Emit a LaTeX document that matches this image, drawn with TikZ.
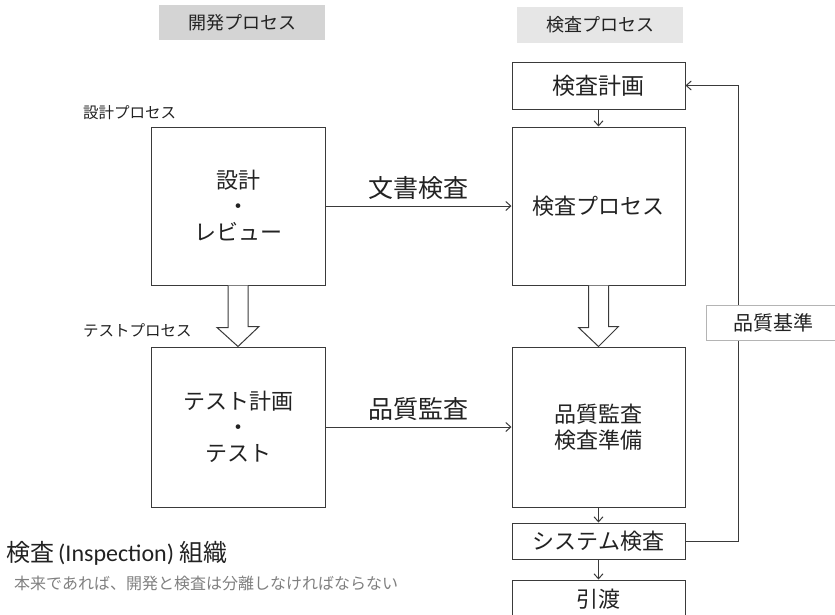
\documentclass[tikz,border=0pt]{standalone}
\usepackage{fontspec}
\setmainfont{Noto Sans CJK JP}
\newfontfamily\carlitofont{Carlito}
\usetikzlibrary{arrows.meta,calc}
\definecolor{linec}{HTML}{3A3A3A}
\definecolor{txtc}{HTML}{222222}
\definecolor{hdrA}{HTML}{D4D4D4}
\definecolor{hdrB}{HTML}{E6E6E6}
\definecolor{greytxt}{HTML}{808080}
\definecolor{lightline}{HTML}{B4B4B4}
\newcommand\fsz[1]{\fontsize{#1}{#1}\selectfont}
\begin{document}
\begin{tikzpicture}[x=1pt,y=-1pt,
  box/.style={draw=linec, line width=1pt, fill=white, inner sep=0pt, text=txtc, align=center},
  hdr/.style={inner sep=0pt, text=txtc, font=\fsz{18}},
  arr/.style={draw=linec, line width=1pt, -{Straight Barb[length=5pt,width=9pt]}},
  hollow/.style={draw=linec, line width=1pt, fill=white, line join=miter},
  lbl/.style={inner sep=0pt, text=txtc, anchor=west, font=\fsz{15.5}},
  clbl/.style={above=6pt, inner sep=0pt, text=txtc, font=\fsz{25}},
]
\useasboundingbox (0,0) rectangle (835,614);

% headers
\node[hdr, fill=hdrA, minimum width=166pt, minimum height=35pt] (hdev) at (242,22.5) {開発プロセス};
\node[hdr, fill=hdrB, minimum width=166pt, minimum height=36pt] (hinsp) at (600,25) {検査プロセス};

% left column
\node[box, minimum width=174pt, minimum height=158pt, font=\fsz{22}] (design) at (238,206)
  {設計\\[4pt]・\\[4pt]レビュー};
\node[box, minimum width=174pt, minimum height=160pt, font=\fsz{22}] (test) at (238,427)
  {テスト計画\\[4pt]・\\[4pt]テスト};
\node[lbl] (ldesign) at (83,113) {設計プロセス};
\node[lbl] (ltest) at (83,330) {テストプロセス};

% right column
\node[box, minimum width=173pt, minimum height=47pt, font=\fsz{23}] (plan) at (598.5,85.5) {検査計画};
\node[box, minimum width=173pt, minimum height=158pt, font=\fsz{22}] (insp) at (598.5,206) {検査プロセス};
\node[box, minimum width=173pt, minimum height=160pt, font=\fsz{22}] (qa) at (598.5,427) {品質監査\\[4pt]検査準備};
\node[box, minimum width=173pt, minimum height=36pt, font=\fsz{22}] (sys) at (598.5,541) {システム検査};
\node[box, minimum width=173pt, minimum height=38pt, font=\fsz{22}] (hand) at (598.5,599) {引渡};

% thin arrows in right column
\draw[arr] (plan.south) -- (insp.north);
\draw[arr] (qa.south) -- (sys.north);
\draw[arr] (sys.south) -- (hand.north);

% horizontal connectors
\draw[arr] (design.east) -- node[clbl] (ldoc) {文書検査} (insp.west);
\draw[arr] (test.east) -- node[clbl] (lqa) {品質監査} (qa.west);

% hollow block arrows
\draw[hollow] ($(design.south)+(-10,0)$) -- ++(0,42) -- ++(-11,0) -- (test.north) -- ($(test.north)+(21,-20)$) -- ++(-11,0) -- ($(design.south)+(10,0)$);
\draw[hollow] ($(insp.south)+(-10,0)$) -- ++(0,42) -- ++(-10,0) -- (qa.north) -- ($(qa.north)+(20,-20)$) -- ++(-10,0) -- ($(insp.south)+(10,0)$);

% feedback loop
\draw[arr] (sys.east) -- ++(52.5,0) coordinate (fbc) |- (plan.east);
\node[draw=lightline, line width=1pt, fill=white, inner sep=0pt, text=txtc, font=\fsz{20},
  minimum width=134pt, minimum height=35pt] (qstd) at (773,322.5) {品質基準};

% bottom text
\node[inner sep=0pt, anchor=west, text=txtc, font=\fsz{24}] (title) at (6,553)
  {検査{\carlitofont\hspace{4pt}(Inspection)\hspace{5pt}}組織};
\node[inner sep=0pt, anchor=west, text=greytxt, font=\fsz{16}] (note) at (14,583) {本来であれば、開発と検査は分離しなければならない};
\end{tikzpicture}
\end{document}
